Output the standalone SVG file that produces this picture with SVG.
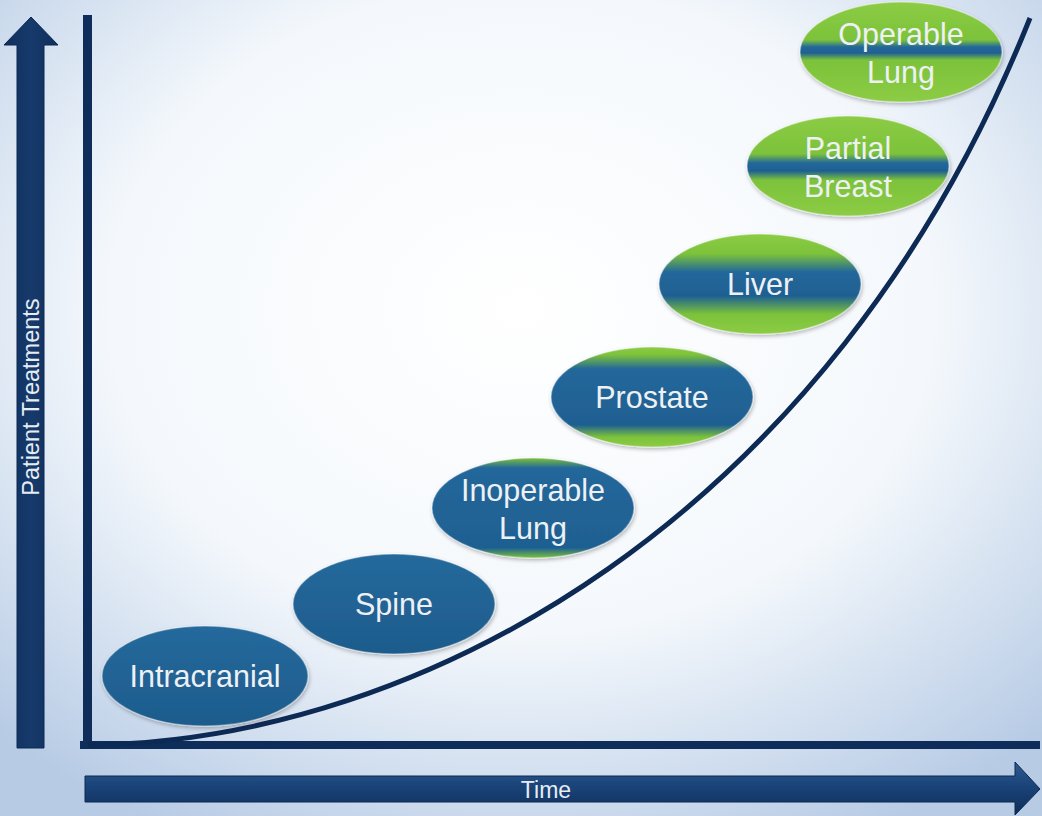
<svg xmlns="http://www.w3.org/2000/svg" width="1042" height="816" viewBox="0 0 1042 816">
<defs>
<radialGradient id="bg" cx="50%" cy="38%" r="72%">
<stop offset="0" stop-color="#ffffff"/>
<stop offset="0.55" stop-color="#f4f8fc"/>
<stop offset="1" stop-color="#b7cbe5"/>
</radialGradient>
<linearGradient id="navyH" x1="0" y1="0" x2="0" y2="1">
<stop offset="0" stop-color="#2d5b90"/>
<stop offset="0.45" stop-color="#1a4479"/>
<stop offset="1" stop-color="#0e2d5a"/>
</linearGradient>
<linearGradient id="navyV" x1="0" y1="0" x2="1" y2="0">
<stop offset="0" stop-color="#0f2f5d"/>
<stop offset="0.5" stop-color="#163a6b"/>
<stop offset="1" stop-color="#0f2f5d"/>
</linearGradient>
<linearGradient id="g0" x1="0" y1="0" x2="0" y2="1">
<stop offset="0" stop-color="#25699c"/>
<stop offset="1" stop-color="#1d5c8d"/>
</linearGradient>
<linearGradient id="g2" x1="0" y1="0" x2="0" y2="1">
<stop offset="0" stop-color="#7cc23a"/>
<stop offset="0.1" stop-color="#22679a"/>
<stop offset="0.9" stop-color="#1f6092"/>
<stop offset="1" stop-color="#7cc23a"/>
</linearGradient>
<linearGradient id="g3" x1="0" y1="0" x2="0" y2="1">
<stop offset="0" stop-color="#8ccc45"/>
<stop offset="0.08" stop-color="#7cc23a"/>
<stop offset="0.22" stop-color="#22679a"/>
<stop offset="0.78" stop-color="#1f6092"/>
<stop offset="0.9" stop-color="#7cc23a"/>
<stop offset="1" stop-color="#8ccc45"/>
</linearGradient>
<linearGradient id="g4" x1="0" y1="0" x2="0" y2="1">
<stop offset="0" stop-color="#8ccc45"/>
<stop offset="0.2" stop-color="#7cc23a"/>
<stop offset="0.38" stop-color="#22679a"/>
<stop offset="0.62" stop-color="#1f6092"/>
<stop offset="0.8" stop-color="#7cc23a"/>
<stop offset="1" stop-color="#8ccc45"/>
</linearGradient>
<linearGradient id="g5" x1="0" y1="0" x2="0" y2="1">
<stop offset="0" stop-color="#8ccc45"/>
<stop offset="0.38" stop-color="#7cc23a"/>
<stop offset="0.47" stop-color="#22679a"/>
<stop offset="0.55" stop-color="#1f6092"/>
<stop offset="0.64" stop-color="#7cc23a"/>
<stop offset="1" stop-color="#8ccc45"/>
</linearGradient>
<linearGradient id="g6" x1="0" y1="0" x2="0" y2="1">
<stop offset="0" stop-color="#8ccc45"/>
<stop offset="0.38" stop-color="#7cc23a"/>
<stop offset="0.45" stop-color="#22679a"/>
<stop offset="0.51" stop-color="#1f6092"/>
<stop offset="0.58" stop-color="#7cc23a"/>
<stop offset="1" stop-color="#8ccc45"/>
</linearGradient>
<filter id="sh" x="-10%" y="-10%" width="120%" height="130%">
<feGaussianBlur in="SourceAlpha" stdDeviation="2"/>
<feOffset dx="1" dy="2" result="b"/>
<feComponentTransfer><feFuncA type="linear" slope="0.3"/></feComponentTransfer>
<feMerge><feMergeNode/><feMergeNode in="SourceGraphic"/></feMerge>
</filter>
</defs>
<style>
.node ellipse{stroke:#ffffff;stroke-opacity:0.35;stroke-width:1.5;filter:url(#sh)}
.lbl{font-family:"Liberation Sans",Arial,sans-serif;font-size:30.5px;fill:#eef1f4;text-anchor:middle}
.ax{font-family:"Liberation Sans",Arial,sans-serif;fill:#e6ecf4;text-anchor:middle}
</style>
<rect width="1042" height="816" fill="url(#bg)"/>

<g id="y-arrow">
<path d="M31,17 L58,45 L44,45 L44,748 L17,748 L17,45 L4,45 Z" fill="url(#navyV)" stroke="#0c2850" stroke-width="1"/>
<text class="ax" font-size="23.5" transform="translate(39,397) rotate(-90)">Patient Treatments</text>
</g>

<g id="x-arrow">
<path d="M85,776 L1015,776 L1015,762 L1040,789 L1015,815 L1015,802 L85,802 Z" fill="url(#navyH)" stroke="#0c2850" stroke-width="1"/>
<text class="ax" font-size="23" x="546" y="798">Time</text>
</g>

<g id="axes">
<rect x="83" y="15" width="9" height="734" fill="#0e2d5a"/>
<rect x="80" y="741" width="960" height="8" fill="#0e2d5a"/>
</g>

<g id="connectors">
<path d="M88,745 C420,742 830,520 1030,18" fill="none" stroke="#0d2a55" stroke-width="5"/>
</g>

<g id="n-intracranial" class="node">
<ellipse cx="205" cy="676" rx="103" ry="50" fill="url(#g0)"/>
<text class="lbl" x="205" y="687">Intracranial</text>
</g>
<g id="n-spine" class="node">
<ellipse cx="394" cy="604" rx="101" ry="50" fill="url(#g0)"/>
<text class="lbl" x="394" y="615">Spine</text>
</g>
<g id="n-inoperable" class="node">
<ellipse cx="533" cy="508" rx="101" ry="50" fill="url(#g2)"/>
<text class="lbl" x="533" y="501">Inoperable</text>
<text class="lbl" x="533" y="539">Lung</text>
</g>
<g id="n-prostate" class="node">
<ellipse cx="652" cy="397" rx="101" ry="50" fill="url(#g3)"/>
<text class="lbl" x="652" y="408">Prostate</text>
</g>
<g id="n-liver" class="node">
<ellipse cx="760" cy="284" rx="101" ry="50" fill="url(#g4)"/>
<text class="lbl" x="760" y="295">Liver</text>
</g>
<g id="n-partial" class="node">
<ellipse cx="848" cy="166" rx="101" ry="50" fill="url(#g5)"/>
<text class="lbl" x="848" y="159">Partial</text>
<text class="lbl" x="848" y="197">Breast</text>
</g>
<g id="n-operable" class="node">
<ellipse cx="901" cy="52" rx="101" ry="50" fill="url(#g6)"/>
<text class="lbl" x="901" y="45">Operable</text>
<text class="lbl" x="901" y="83">Lung</text>
</g>
</svg>
